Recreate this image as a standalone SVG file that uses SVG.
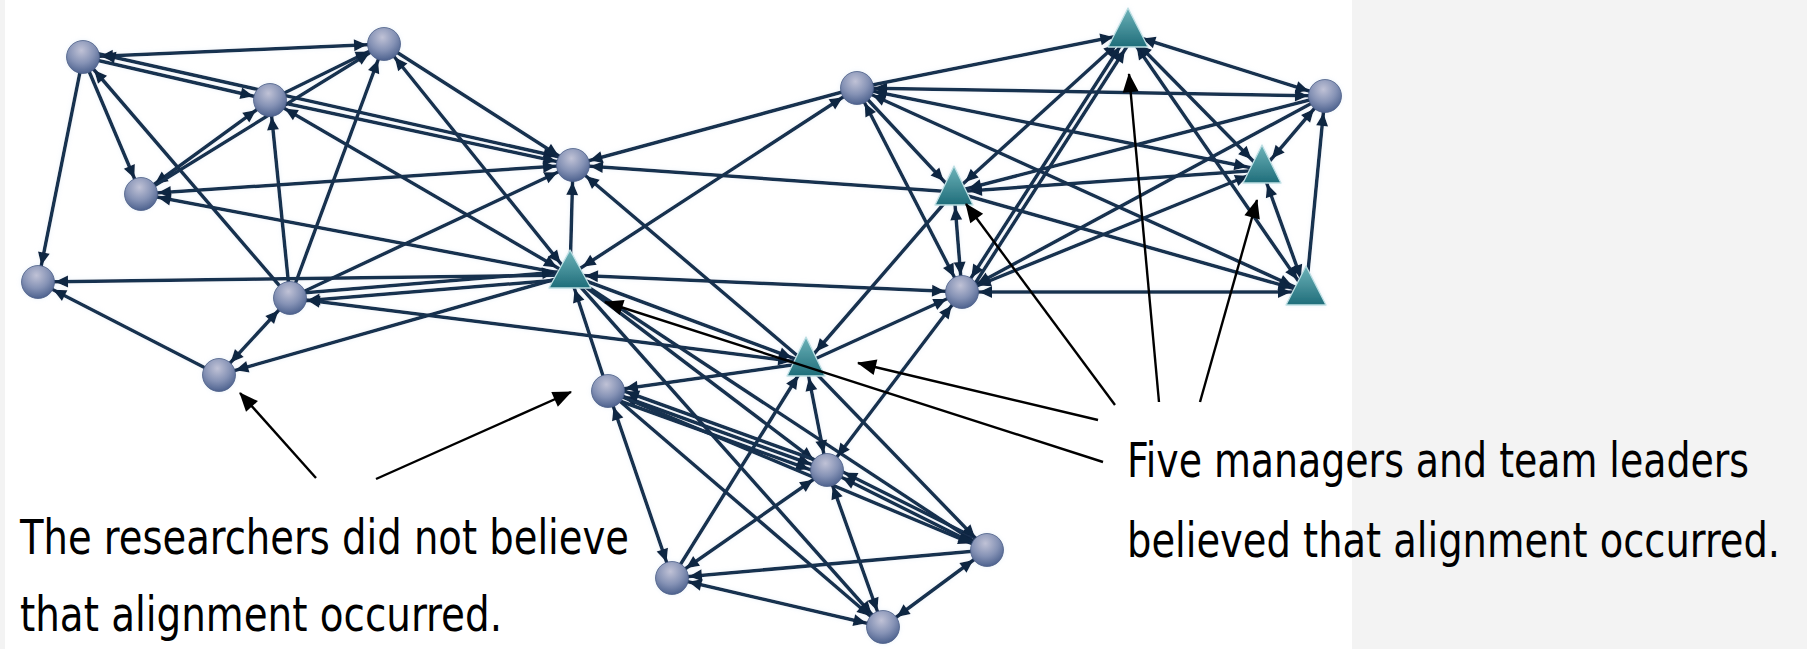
<svg xmlns="http://www.w3.org/2000/svg" width="1807" height="649" viewBox="0 0 1807 649">
<style>
  .e line { stroke: #17304f; stroke-width: 3.5; fill: none; }
  .ec { marker-end: url(#mc); }
  .et { marker-end: url(#mt); }
  .sc { marker-start: url(#mc); }
  .st { marker-start: url(#mt); }
  .c { fill: url(#gc); stroke: #4a5d86; stroke-width: 0.8; }
  .t { fill: url(#gt); stroke: #bfe0e4; stroke-width: 1.3; stroke-linejoin: round; }
  .ann line { stroke: #000; stroke-width: 2.4; marker-end: url(#ma); }
  .lbl { font-family: "Liberation Sans Narrow", "DejaVu Sans Condensed", "Liberation Sans", sans-serif; font-size: 48px; fill: #000; }
</style>
<defs>
  <radialGradient id="gc" cx="0.45" cy="0.3" r="0.72">
    <stop offset="0" stop-color="#c0c2d6"/>
    <stop offset="0.55" stop-color="#8592b5"/>
    <stop offset="1" stop-color="#4a5f8c"/>
  </radialGradient>
  <linearGradient id="gt" x1="0" y1="0" x2="0" y2="1">
    <stop offset="0" stop-color="#6db3b9"/>
    <stop offset="1" stop-color="#1f6d7a"/>
  </linearGradient>
  <marker id="mc" markerUnits="userSpaceOnUse" refX="17" refY="0" orient="auto-start-reverse" overflow="visible" style="overflow:visible">
    <path d="M0,0 L-13,-6 L-13,6 Z" fill="#0f2542"/>
  </marker>
  <marker id="mt" markerUnits="userSpaceOnUse" refX="15" refY="0" orient="auto-start-reverse" overflow="visible" style="overflow:visible">
    <path d="M0,0 L-13,-6 L-13,6 Z" fill="#0f2542"/>
  </marker>
  <marker id="ma" markerUnits="userSpaceOnUse" refX="0" refY="0" orient="auto" overflow="visible" style="overflow:visible">
    <path d="M1,0 L-18,-8 L-18,8 Z" fill="#000"/>
  </marker>
  <filter id="soft" x="-2%" y="-4%" width="104%" height="108%">
    <feGaussianBlur in="SourceGraphic" stdDeviation="2.2" result="halo"/>
    <feColorMatrix in="halo" type="matrix" values="0 0 0 0 0.55  0 0 0 0 0.68  0 0 0 0 0.85  0 0 0 0.35 0" result="glow"/>
    <feGaussianBlur in="SourceGraphic" stdDeviation="0.5" result="body"/>
    <feMerge>
      <feMergeNode in="glow"/>
      <feMergeNode in="body"/>
    </feMerge>
  </filter>
</defs>

<!-- page and picture backgrounds -->
<rect x="0" y="0" width="1807" height="649" fill="#f3f3f3"/>
<rect x="5" y="0" width="1347" height="649" fill="#ffffff"/>

<g id="network" filter="url(#soft)">
  <g id="connectors" class="e">
    <line x1="83" y1="57" x2="384" y2="44" class="sc ec"/>
    <line x1="83" y1="57" x2="270" y2="100" class="ec"/>
    <line x1="86" y1="51" x2="573" y2="160" class="sc ec"/>
    <line x1="83" y1="57" x2="141" y2="194" class="ec"/>
    <line x1="83" y1="57" x2="38" y2="282" class="ec"/>
    <line x1="290" y1="298" x2="83" y2="57" class="ec"/>
    <line x1="270" y1="100" x2="384" y2="44" class="ec"/>
    <line x1="141" y1="194" x2="270" y2="100" class="sc ec"/>
    <line x1="141" y1="194" x2="384" y2="44" class="ec"/>
    <line x1="290" y1="298" x2="384" y2="44" class="ec"/>
    <line x1="384" y1="44" x2="573" y2="165" class="ec"/>
    <line x1="384" y1="44" x2="570" y2="275" class="sc et"/>
    <line x1="270" y1="100" x2="573" y2="165" class="ec"/>
    <line x1="270" y1="100" x2="570" y2="275" class="sc et"/>
    <line x1="290" y1="298" x2="270" y2="100" class="ec"/>
    <line x1="141" y1="194" x2="573" y2="165" class="sc ec"/>
    <line x1="570" y1="275" x2="141" y2="194" class="ec"/>
    <line x1="570" y1="275" x2="38" y2="282" class="ec"/>
    <line x1="219" y1="375" x2="38" y2="282" class="ec"/>
    <line x1="219" y1="375" x2="290" y2="298" class="sc ec"/>
    <line x1="570" y1="275" x2="219" y2="375" class="ec"/>
    <line x1="290" y1="298" x2="573" y2="165" class="ec"/>
    <line x1="290" y1="294" x2="570" y2="271" class="et"/>
    <line x1="570" y1="279" x2="290" y2="302" class="ec"/>
    <line x1="806" y1="363" x2="290" y2="298" class="st ec"/>
    <line x1="608" y1="391" x2="570" y2="275" class="et"/>
    <line x1="570" y1="275" x2="573" y2="165" class="ec"/>
    <line x1="857" y1="88" x2="573" y2="165" class="ec"/>
    <line x1="857" y1="88" x2="570" y2="275" class="sc et"/>
    <line x1="954" y1="192" x2="573" y2="165" class="ec"/>
    <line x1="806" y1="363" x2="573" y2="165" class="ec"/>
    <line x1="570" y1="275" x2="962" y2="292" class="st ec"/>
    <line x1="570" y1="275" x2="827" y2="470" class="ec"/>
    <line x1="570" y1="275" x2="987" y2="550" class="ec"/>
    <line x1="570" y1="275" x2="883" y2="627" class="ec"/>
    <line x1="570" y1="275" x2="806" y2="363" class="et"/>
    <line x1="806" y1="363" x2="608" y2="391" class="ec"/>
    <line x1="608" y1="391" x2="827" y2="470" class="sc ec"/>
    <line x1="606" y1="396" x2="825" y2="475" class="ec"/>
    <line x1="829" y1="465" x2="610" y2="386" class="ec"/>
    <line x1="608" y1="391" x2="987" y2="550" class="ec"/>
    <line x1="608" y1="391" x2="672" y2="578" class="sc ec"/>
    <line x1="608" y1="391" x2="883" y2="627" class="ec"/>
    <line x1="806" y1="363" x2="827" y2="470" class="st ec"/>
    <line x1="672" y1="578" x2="806" y2="363" class="et"/>
    <line x1="672" y1="578" x2="827" y2="470" class="sc ec"/>
    <line x1="987" y1="550" x2="672" y2="578" class="ec"/>
    <line x1="672" y1="578" x2="883" y2="627" class="sc ec"/>
    <line x1="827" y1="470" x2="987" y2="550" class="sc ec"/>
    <line x1="989" y1="545" x2="829" y2="465" class="ec"/>
    <line x1="827" y1="470" x2="883" y2="627" class="sc ec"/>
    <line x1="987" y1="550" x2="883" y2="627" class="sc ec"/>
    <line x1="806" y1="363" x2="987" y2="550" class="ec"/>
    <line x1="962" y1="292" x2="827" y2="470" class="sc ec"/>
    <line x1="806" y1="363" x2="962" y2="292" class="ec"/>
    <line x1="954" y1="192" x2="806" y2="363" class="et"/>
    <line x1="857" y1="88" x2="962" y2="292" class="sc ec"/>
    <line x1="857" y1="88" x2="954" y2="192" class="et"/>
    <line x1="857" y1="88" x2="1325" y2="96" class="sc ec"/>
    <line x1="857" y1="88" x2="1128" y2="34" class="et"/>
    <line x1="857" y1="88" x2="1262" y2="170" class="sc et"/>
    <line x1="857" y1="88" x2="1306" y2="292" class="sc et"/>
    <line x1="954" y1="192" x2="962" y2="292" class="st ec"/>
    <line x1="1262" y1="170" x2="954" y2="192" class="et"/>
    <line x1="1325" y1="96" x2="954" y2="192" class="et"/>
    <line x1="954" y1="192" x2="1128" y2="34" class="st et"/>
    <line x1="962" y1="292" x2="1128" y2="34" class="sc et"/>
    <line x1="969" y1="293" x2="1133" y2="37" class="et"/>
    <line x1="954" y1="192" x2="1306" y2="292" class="et"/>
    <line x1="1128" y1="34" x2="1325" y2="96" class="st ec"/>
    <line x1="1128" y1="34" x2="1306" y2="292" class="st et"/>
    <line x1="1128" y1="34" x2="1262" y2="170" class="st et"/>
    <line x1="1325" y1="96" x2="1262" y2="170" class="sc et"/>
    <line x1="1306" y1="292" x2="1325" y2="96" class="ec"/>
    <line x1="962" y1="292" x2="1306" y2="292" class="sc et"/>
    <line x1="1262" y1="170" x2="962" y2="292" class="st ec"/>
    <line x1="1325" y1="96" x2="962" y2="292" class="ec"/>
    <line x1="1262" y1="170" x2="1306" y2="292" class="st et"/>
  </g>

  <g id="n-A"><circle class="c" cx="83" cy="57" r="16.5"/></g>
  <g id="n-B"><circle class="c" cx="384" cy="44" r="16.5"/></g>
  <g id="n-C"><circle class="c" cx="270" cy="100" r="16.5"/></g>
  <g id="n-D"><circle class="c" cx="141" cy="194" r="16.5"/></g>
  <g id="n-E"><circle class="c" cx="38" cy="282" r="16.5"/></g>
  <g id="n-F"><circle class="c" cx="290" cy="298" r="16.5"/></g>
  <g id="n-G"><circle class="c" cx="219" cy="375" r="16.5"/></g>
  <g id="n-H"><circle class="c" cx="573" cy="165" r="16.5"/></g>
  <g id="n-I"><circle class="c" cx="857" cy="88" r="16.5"/></g>
  <g id="n-J"><circle class="c" cx="1325" cy="96" r="16.5"/></g>
  <g id="n-K"><circle class="c" cx="962" cy="292" r="16.5"/></g>
  <g id="n-L"><circle class="c" cx="608" cy="391" r="16.5"/></g>
  <g id="n-M"><circle class="c" cx="827" cy="470" r="16.5"/></g>
  <g id="n-N"><circle class="c" cx="987" cy="550" r="16.5"/></g>
  <g id="n-O"><circle class="c" cx="672" cy="578" r="16.5"/></g>
  <g id="n-P"><circle class="c" cx="883" cy="627" r="16.5"/></g>

  <g id="n-T1"><polygon class="t" points="570,250 549,288 591,288"/></g>
  <g id="n-T2"><polygon class="t" points="1128,8 1108,47 1148,47"/></g>
  <g id="n-T3"><polygon class="t" points="954,166 935,205 973,205"/></g>
  <g id="n-T4"><polygon class="t" points="1262,145 1243,183 1281,183"/></g>
  <g id="n-T5"><polygon class="t" points="1306,266 1286,305 1326,305"/></g>
  <g id="n-T6"><polygon class="t" points="806,337 787,376 825,376"/></g>
</g>

<g id="note-researchers" class="ann">
  <line x1="316" y1="478" x2="240" y2="393"/>
  <line x1="376" y1="479" x2="571" y2="392"/>
  <text class="lbl" x="20" y="554" textLength="609" lengthAdjust="spacingAndGlyphs">The researchers did not believe</text>
  <text class="lbl" x="20" y="631" textLength="482" lengthAdjust="spacingAndGlyphs">that alignment occurred.</text>
</g>

<g id="note-managers" class="ann">
  <line x1="1103" y1="462" x2="605" y2="302"/>
  <line x1="1098" y1="420" x2="858" y2="363"/>
  <line x1="1115" y1="405" x2="966" y2="204"/>
  <line x1="1159" y1="402" x2="1129" y2="74"/>
  <line x1="1200" y1="402" x2="1257" y2="200"/>
  <text class="lbl" x="1127" y="477" textLength="622" lengthAdjust="spacingAndGlyphs">Five managers and team leaders</text>
  <text class="lbl" x="1127" y="557" textLength="653" lengthAdjust="spacingAndGlyphs">believed that alignment occurred.</text>
</g>
</svg>
